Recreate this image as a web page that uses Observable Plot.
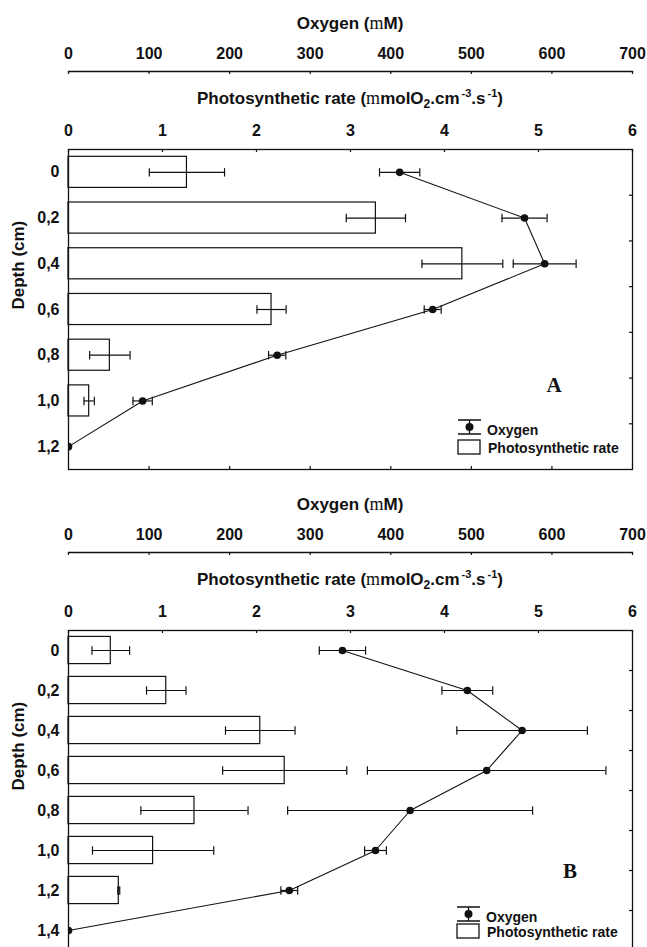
<!DOCTYPE html>
<html><head><meta charset="utf-8">
<script src="https://cdn.jsdelivr.net/npm/d3@7"></script>
<script src="https://cdn.jsdelivr.net/npm/@observablehq/plot@0.6"></script>
<style>
html,body{margin:0;padding:0;background:#fff;overflow:hidden;}
#root{position:relative;width:647px;height:947px;overflow:hidden;font-family:"Liberation Sans",Arial,sans-serif;font-weight:bold;color:#111;}
.panel{position:absolute;left:0;width:647px;height:472px;}
.panel svg.layer{position:absolute;left:0;top:0;}
.title{position:absolute;left:68px;width:564px;text-align:center;font-size:17px;line-height:20px;white-space:nowrap;}
.mu{font-family:"Liberation Serif","Times New Roman",serif;font-weight:normal;font-size:18px;}
.sup{font-size:11px;position:relative;top:-7px;margin-left:2px;}
.sub{font-size:12px;position:relative;top:4px;}
.letter{position:absolute;font-family:"Liberation Serif","Times New Roman",serif;font-weight:bold;font-size:21px;line-height:24px;width:30px;text-align:center;}
.legtext{position:absolute;font-size:14px;line-height:16px;white-space:nowrap;}
.legicon{position:absolute;}
</style>
</head><body><div id="root"></div>
<script>
// ---- data ----
const depthA = [0, 0.2, 0.4, 0.6, 0.8, 1.0, 1.2];
const rateA = [1.26, 3.27, 4.19, 2.16, 0.44, 0.22, 0];
const rateErrA = [0.40, 0.315, 0.43, 0.155, 0.215, 0.055, 0];
const oxyA = [411, 566, 591, 452, 259, 92, 0];
const oxyErrA = [25, 28, 39, 10.5, 10.7, 12, 0];

const depthB = [0, 0.2, 0.4, 0.6, 0.8, 1.0, 1.2, 1.4];
const rateB = [0.45, 1.04, 2.04, 2.30, 1.34, 0.90, 0.535, 0];
const rateErrB = [0.20, 0.21, 0.37, 0.66, 0.57, 0.645, 0.01, 0];
const oxyB = [340, 495, 563, 519, 424, 381, 274, 0];
const oxyErrB = [28.7, 31.5, 81, 148, 152, 13.5, 10.4, 0];

const oxygenTicks = [0, 100, 200, 300, 400, 500, 600, 700];
const rateTicks = [0, 1, 2, 3, 4, 5, 6];
const depthLabelsA = ["0", "0,2", "0,4", "0,6", "0,8", "1,0", "1,2"];
const depthLabelsB = ["0", "0,2", "0,4", "0,6", "0,8", "1,0", "1,2", "1,4"];
const panelLetters = ["A", "B"];
const legendLabels = ["Oxygen", "Photosynthetic rate"];
const depthTitle = "Depth (cm)";

// ---- drawing ----
const INK = "#111";
const FONT = "'Liberation Sans', Arial, sans-serif";
const vbar = {draw(ctx, size) { const h = Math.sqrt(size / Math.PI); ctx.moveTo(0, -h); ctx.lineTo(0, h); }};
const root = document.getElementById("root");

function makePanel(top, depths, rates, rateErrs, oxys, oxyErrs, depthLabels, letter, letterPos, legendPos) {
  const W = 647, H = 472, ML = 68, MR = 15, MT = 149, MB = 3, OXT = 71;
  const n = depths.length;
  const step = depths[1] - depths[0];
  const ydom = [depths[0] - step / 2, depths[n - 1] + step / 2];
  const frameH = H - MT - MB, frameW = W - ML - MR;
  const inset = frameH / n * 0.16;
  const rows = depths.map((d, i) => ({depth: d, rate: rates[i], se: rateErrs[i], oxy: oxys[i], oe: oxyErrs[i]}));
  const bars = rows.filter(d => d.rate > 0);
  const barErr = bars.filter(d => d.se > 0);
  const oxErr = rows.filter(d => d.oe > 0);
  const rightTicks = depths.slice(0, -1).map(d => d + step / 2);
  const style = {fontFamily: FONT, fontSize: "16px", fontWeight: "bold", color: INK, background: "transparent", overflow: "visible"};

  const panel = document.createElement("div");
  panel.className = "panel";
  panel.style.top = top + "px";
  root.appendChild(panel);

  const main = Plot.plot({
    width: W, height: H, marginLeft: ML, marginRight: MR, marginTop: MT, marginBottom: MB,
    style,
    x: {domain: [0, 6]},
    y: {domain: ydom, reverse: true},
    marks: [
      Plot.rect(bars, {x1: () => 0, x2: "rate", y1: d => d.depth - step / 2, y2: d => d.depth + step / 2,
        insetTop: inset, insetBottom: inset, fill: "white", stroke: INK, strokeWidth: 1.2}),
      Plot.ruleY(barErr, {y: "depth", x1: d => d.rate - d.se, x2: d => d.rate + d.se, stroke: INK, strokeWidth: 1.2}),
      Plot.dot(barErr, {x: d => d.rate - d.se, y: "depth", symbol: vbar, r: 4.2, stroke: INK, fill: "none", strokeWidth: 1.2}),
      Plot.dot(barErr, {x: d => d.rate + d.se, y: "depth", symbol: vbar, r: 4.2, stroke: INK, fill: "none", strokeWidth: 1.2}),
      Plot.frame({stroke: INK, strokeWidth: 1.3}),
      Plot.tickX(rateTicks, {x: d => d, insetBottom: frameH - 3, stroke: INK, strokeWidth: 1.2}),
      Plot.tickY(rightTicks, {y: d => d, insetLeft: frameW - 3, stroke: INK, strokeWidth: 1.2}),
      Plot.axisX(rateTicks, {anchor: "top", tickSize: 0, tickPadding: 14, label: null, tickFormat: d => String(d), fill: INK}),
      Plot.axisY(depths, {anchor: "left", tickSize: 0, tickPadding: 9, label: null,
        tickFormat: d => depthLabels[depths.indexOf(d)], fill: INK}),
      Plot.text([depthTitle], {frameAnchor: "left", rotate: -90, dx: -50, text: d => d, fontSize: 17, fill: INK})
    ]
  });
  main.classList.add("layer");
  panel.appendChild(main);

  const ox = Plot.plot({
    width: W, height: H, marginLeft: ML, marginRight: MR, marginTop: OXT, marginBottom: MB,
    style,
    x: {domain: [0, 700]},
    y: {domain: ydom, range: [MT, H - MB], axis: null},
    marks: [
      Plot.frame({anchor: "top", stroke: INK, strokeWidth: 1.3}),
      Plot.tickX(oxygenTicks, {x: d => d, insetBottom: (H - MB - OXT) - 3, stroke: INK, strokeWidth: 1.2}),
      Plot.tickX(oxygenTicks.slice(1, -1), {x: d => d, insetTop: (H - MB - OXT) - 3, stroke: INK, strokeWidth: 1.2}),
      Plot.axisX(oxygenTicks, {anchor: "top", tickSize: 0, tickPadding: 13, label: null, tickFormat: d => String(d), fill: INK}),
      Plot.ruleY(oxErr, {y: "depth", x1: d => d.oxy - d.oe, x2: d => d.oxy + d.oe, stroke: INK, strokeWidth: 1.2}),
      Plot.dot(oxErr, {x: d => d.oxy - d.oe, y: "depth", symbol: vbar, r: 4.2, stroke: INK, fill: "none", strokeWidth: 1.2}),
      Plot.dot(oxErr, {x: d => d.oxy + d.oe, y: "depth", symbol: vbar, r: 4.2, stroke: INK, fill: "none", strokeWidth: 1.2}),
      Plot.line(rows, {x: "oxy", y: "depth", stroke: INK, strokeWidth: 1.1}),
      Plot.dot(rows, {x: "oxy", y: "depth", r: 3.8, fill: INK, stroke: "none", clip: "frame"})
    ]
  });
  ox.classList.add("layer");
  panel.appendChild(ox);

  // titles
  const t1 = document.createElement("div");
  t1.className = "title"; t1.style.top = "13px";
  t1.innerHTML = 'Oxygen (<span class="mu">m</span>M)';
  panel.appendChild(t1);
  const t2 = document.createElement("div");
  t2.className = "title"; t2.style.top = "88px";
  t2.innerHTML = 'Photosynthetic rate (<span class="mu">m</span>molO<span class="sub">2</span>.cm<span class="sup">-3</span>.s<span class="sup">-1</span>)';
  panel.appendChild(t2);

  // letter
  const L = document.createElement("div");
  L.className = "letter"; L.textContent = letter;
  L.style.left = (letterPos[0] - 15) + "px"; L.style.top = (letterPos[1] - 12) + "px";
  panel.appendChild(L);

  // legend
  const [lx, capTop, boxTop] = legendPos;
  const icon1 = d3.create("svg").attr("class", "legicon").attr("width", 26).attr("height", 18)
    .style("left", (lx - 1) + "px").style("top", (capTop - 2) + "px");
  icon1.append("path").attr("d", "M1,2H24M1,16H24M12.5,2V16").attr("stroke", INK).attr("stroke-width", 1.3).attr("fill", "none");
  icon1.append("circle").attr("cx", 12.5).attr("cy", 9).attr("r", 4).attr("fill", INK);
  panel.appendChild(icon1.node());
  const lt1 = document.createElement("div");
  lt1.className = "legtext"; lt1.textContent = legendLabels[0];
  lt1.style.left = (lx + 29) + "px"; lt1.style.top = (capTop + 2) + "px";
  panel.appendChild(lt1);
  const icon2 = d3.create("svg").attr("class", "legicon").attr("width", 26).attr("height", 18)
    .style("left", (lx - 1) + "px").style("top", (boxTop - 1) + "px");
  icon2.append("rect").attr("x", 1).attr("y", 1).attr("width", 22).attr("height", 14).attr("fill", "white").attr("stroke", INK).attr("stroke-width", 1.3);
  panel.appendChild(icon2.node());
  const lt2 = document.createElement("div");
  lt2.className = "legtext"; lt2.textContent = legendLabels[1];
  lt2.style.left = (lx + 30) + "px"; lt2.style.top = (boxTop + 0) + "px";
  panel.appendChild(lt2);
}

makePanel(0, depthA, rateA, rateErrA, oxyA, oxyErrA, depthLabelsA, panelLetters[0], [554, 385], [458, 420, 440]);
makePanel(481, depthB, rateB, rateErrB, oxyB, oxyErrB, depthLabelsB, panelLetters[1], [570, 390], [457, 425.7, 443]);
</script>
</body></html>
